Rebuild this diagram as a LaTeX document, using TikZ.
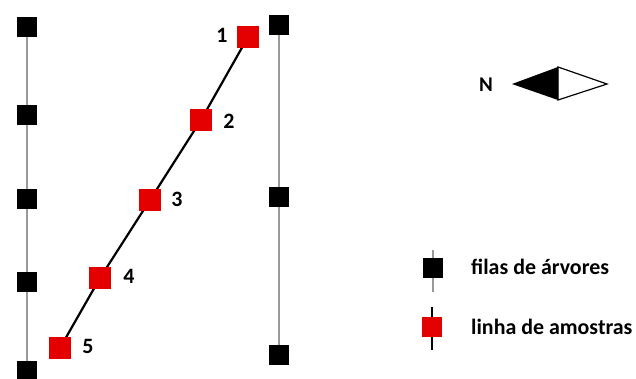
\documentclass[tikz,border=0pt]{standalone}
\usepackage{fontspec}
\setmainfont{Carlito}
\usetikzlibrary{backgrounds}
\begin{document}
\begin{tikzpicture}[x=1bp,y=-1bp,
  tree/.style={fill=black,minimum size=20bp,inner sep=0pt,draw=none},
  sample/.style={fill=red!90!black,minimum size=22bp,inner sep=0pt,draw=none},
  row/.style={draw=gray!80,line width=1.6bp},
  tline/.style={draw=black,line width=2.2bp},
  num/.style={font=\bfseries\fontsize{22}{22}\selectfont,inner sep=0pt},
  leg/.style={font=\bfseries\fontsize{22}{22}\selectfont,anchor=west,inner sep=0pt}]
\useasboundingbox (0,0) rectangle (636,378);
% tree rows
\node[tree] (l1) at (27,27) {};
\node[tree] (l2) at (27,115) {};
\node[tree] (l3) at (27,199) {};
\node[tree] (l4) at (27,282) {};
\node[tree] (l5) at (27,371) {};
\node[tree] (r1) at (279,25) {};
\node[tree] (r2) at (279,197) {};
\node[tree] (r3) at (279,355) {};
% sample line
\node[sample] (s1) at (248,37) {};
\node[sample] (s2) at (201,120) {};
\node[sample] (s3) at (150,200) {};
\node[sample] (s4) at (100,278) {};
\node[sample] (s5) at (60,348) {};
\begin{scope}[on background layer]
\draw[row] (l1.center) -- (l5.center);
\draw[row] (r1.center) -- (r3.center);
\draw[tline] (s1.center) -- (s2.center) -- (s3.center) -- (s4.center) -- (s5.center);
\end{scope}
\node[num] (n1) at (222,35) {1};
\node[num] (n2) at (229,121) {2};
\node[num] (n3) at (177,199) {3};
\node[num] (n4) at (129,276) {4};
\node[num] (n5) at (88,346) {5};
% north arrow
\node[font=\bfseries\fontsize{21}{21}\selectfont,inner sep=0pt] (N) at (486,85) {N};
\coordinate (at) at (512,84);
\coordinate (am1) at (558,67);
\coordinate (am2) at (558,100);
\coordinate (ar) at (607,84);
\fill[black] (at) -- (am1) -- (am2) -- cycle;
\draw[black,line width=1.2bp,line join=miter] (am1) -- (ar) -- (am2) -- cycle;
% legend
\node[tree] (lg1) at (433,268) {};
\node[sample,minimum size=20bp] (lg2) at (432,327) {};
\coordinate (lt1) at (433,250);
\coordinate (lt2) at (433,292);
\coordinate (ls1) at (432,307);
\coordinate (ls2) at (432,350);
\begin{scope}[on background layer]
\draw[row] (lt1) -- (lt2);
\draw[tline] (ls1) -- (ls2);
\end{scope}
\node[leg] (t1) at (471,267) {filas de árvores};
\node[leg] (t2) at (471,327) {linha de amostras};
\end{tikzpicture}
\end{document}
